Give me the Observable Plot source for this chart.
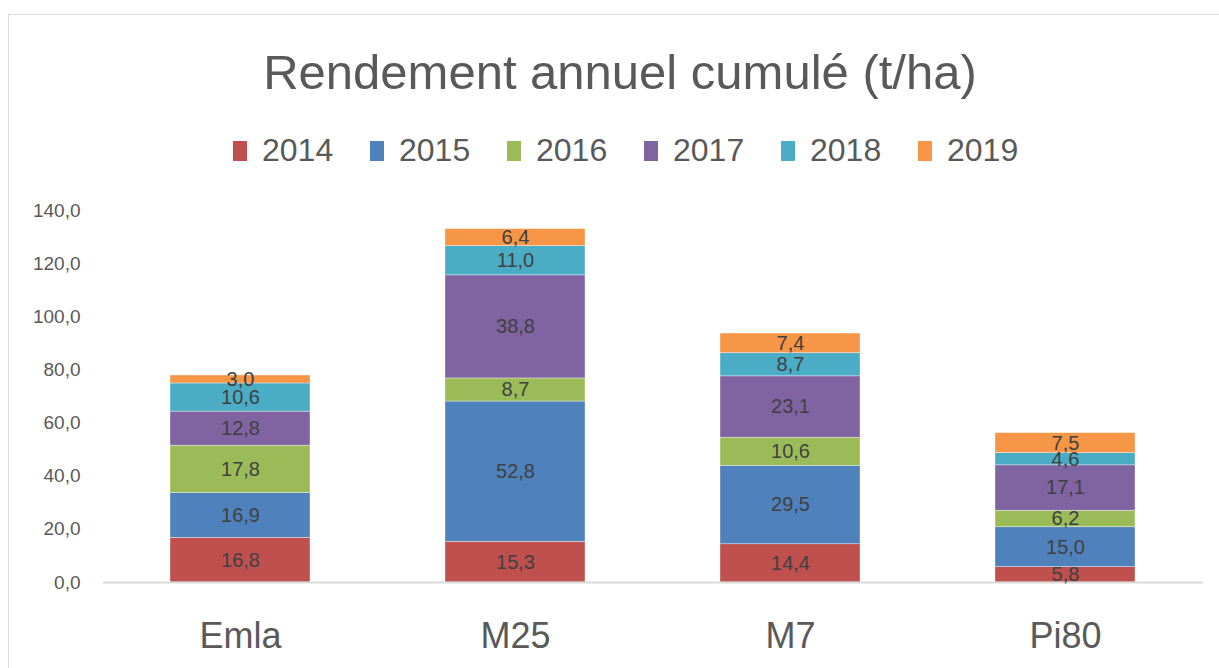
<!DOCTYPE html>
<html><head><meta charset="utf-8">
<script src="https://cdn.jsdelivr.net/npm/d3@7"></script>
<script src="https://cdn.jsdelivr.net/npm/@observablehq/plot@0.6"></script>
<style>
body{margin:0;background:#fff;font-family:"Liberation Sans",Arial,sans-serif;}
#frame{position:absolute;left:8px;top:14px;width:1300px;height:800px;border:1.5px solid #d9d9d9;box-sizing:border-box;}
#title{position:absolute;left:0;top:44px;width:1240px;text-align:center;font-size:49px;color:#595959;}
#legend{position:absolute;left:233px;top:132px;display:flex;font-size:32px;color:#595959;}
#legend .it{display:flex;align-items:center;width:137px;}
#legend .sw{width:14px;height:20px;margin-right:15px;}
#chart{position:absolute;left:0;top:185px;}
</style></head>
<body>
<div id="frame"></div>
<div id="title">Rendement annuel cumulé (t/ha)</div>
<div id="legend"></div>
<div id="chart"></div>
<script>
const categories = ["Emla","M25","M7","Pi80"];
const years = ["2014","2015","2016","2017","2018","2019"];
const colors = ["#c0504d","#4f81bd","#9bbb59","#8064a2","#4bacc6","#f79646"];
const v2014 = [16.8,15.3,14.4,5.8];
const v2015 = [16.9,52.8,29.5,15.0];
const v2016 = [17.8,8.7,10.6,6.2];
const v2017 = [12.8,38.8,23.1,17.1];
const v2018 = [10.6,11.0,8.7,4.6];
const v2019 = [3.0,6.4,7.4,7.5];
const yTicks = [0,20,40,60,80,100,120,140];

const series = [v2014,v2015,v2016,v2017,v2018,v2019];
const data = [];
years.forEach((yr,i)=>categories.forEach((c,j)=>data.push({cat:c,year:yr,value:series[i][j]})));
const fmt = d => d.toFixed(1).replace(".", ",");

const leg = document.getElementById("legend");
years.forEach((yr,i)=>{
  const it=document.createElement("div");it.className="it";
  const sw=document.createElement("div");sw.className="sw";sw.style.background=colors[i];
  const t=document.createElement("span");t.textContent=yr;
  it.appendChild(sw);it.appendChild(t);leg.appendChild(it);
});

const chart = Plot.plot({
  width:1219, height:483,
  marginTop:25, marginBottom:86, marginLeft:103, marginRight:16,
  style:{fontFamily:"Liberation Sans, Arial, sans-serif", color:"#595959", background:"transparent"},
  x:{domain:categories, paddingInner:0.49, paddingOuter:0.245, label:null},
  y:{domain:[0,140], label:null},
  color:{domain:years, range:colors},
  marks:[
    Plot.barY(data, {x:"cat", y:"value", fill:"year", z:"year", stroke:"#ffffff", strokeOpacity:0.5, strokeWidth:0.7}),
    Plot.ruleY([0], {stroke:"#d9d9d9", strokeWidth:2}),
    Plot.axisY({ticks:yTicks, tickFormat:fmt, tickSize:0, tickPadding:23, fontSize:19, fill:"#595959"}),
    Plot.axisX({tickSize:0, tickPadding:40, fontSize:36, fill:"#595959"}),
    Plot.text(data, Plot.stackY({x:"cat", y:"value", z:"year", text:d=>fmt(d.value), fill:"#404040", fontSize:20}))
  ]
});
document.getElementById("chart").appendChild(chart);
</script>
</body></html>
